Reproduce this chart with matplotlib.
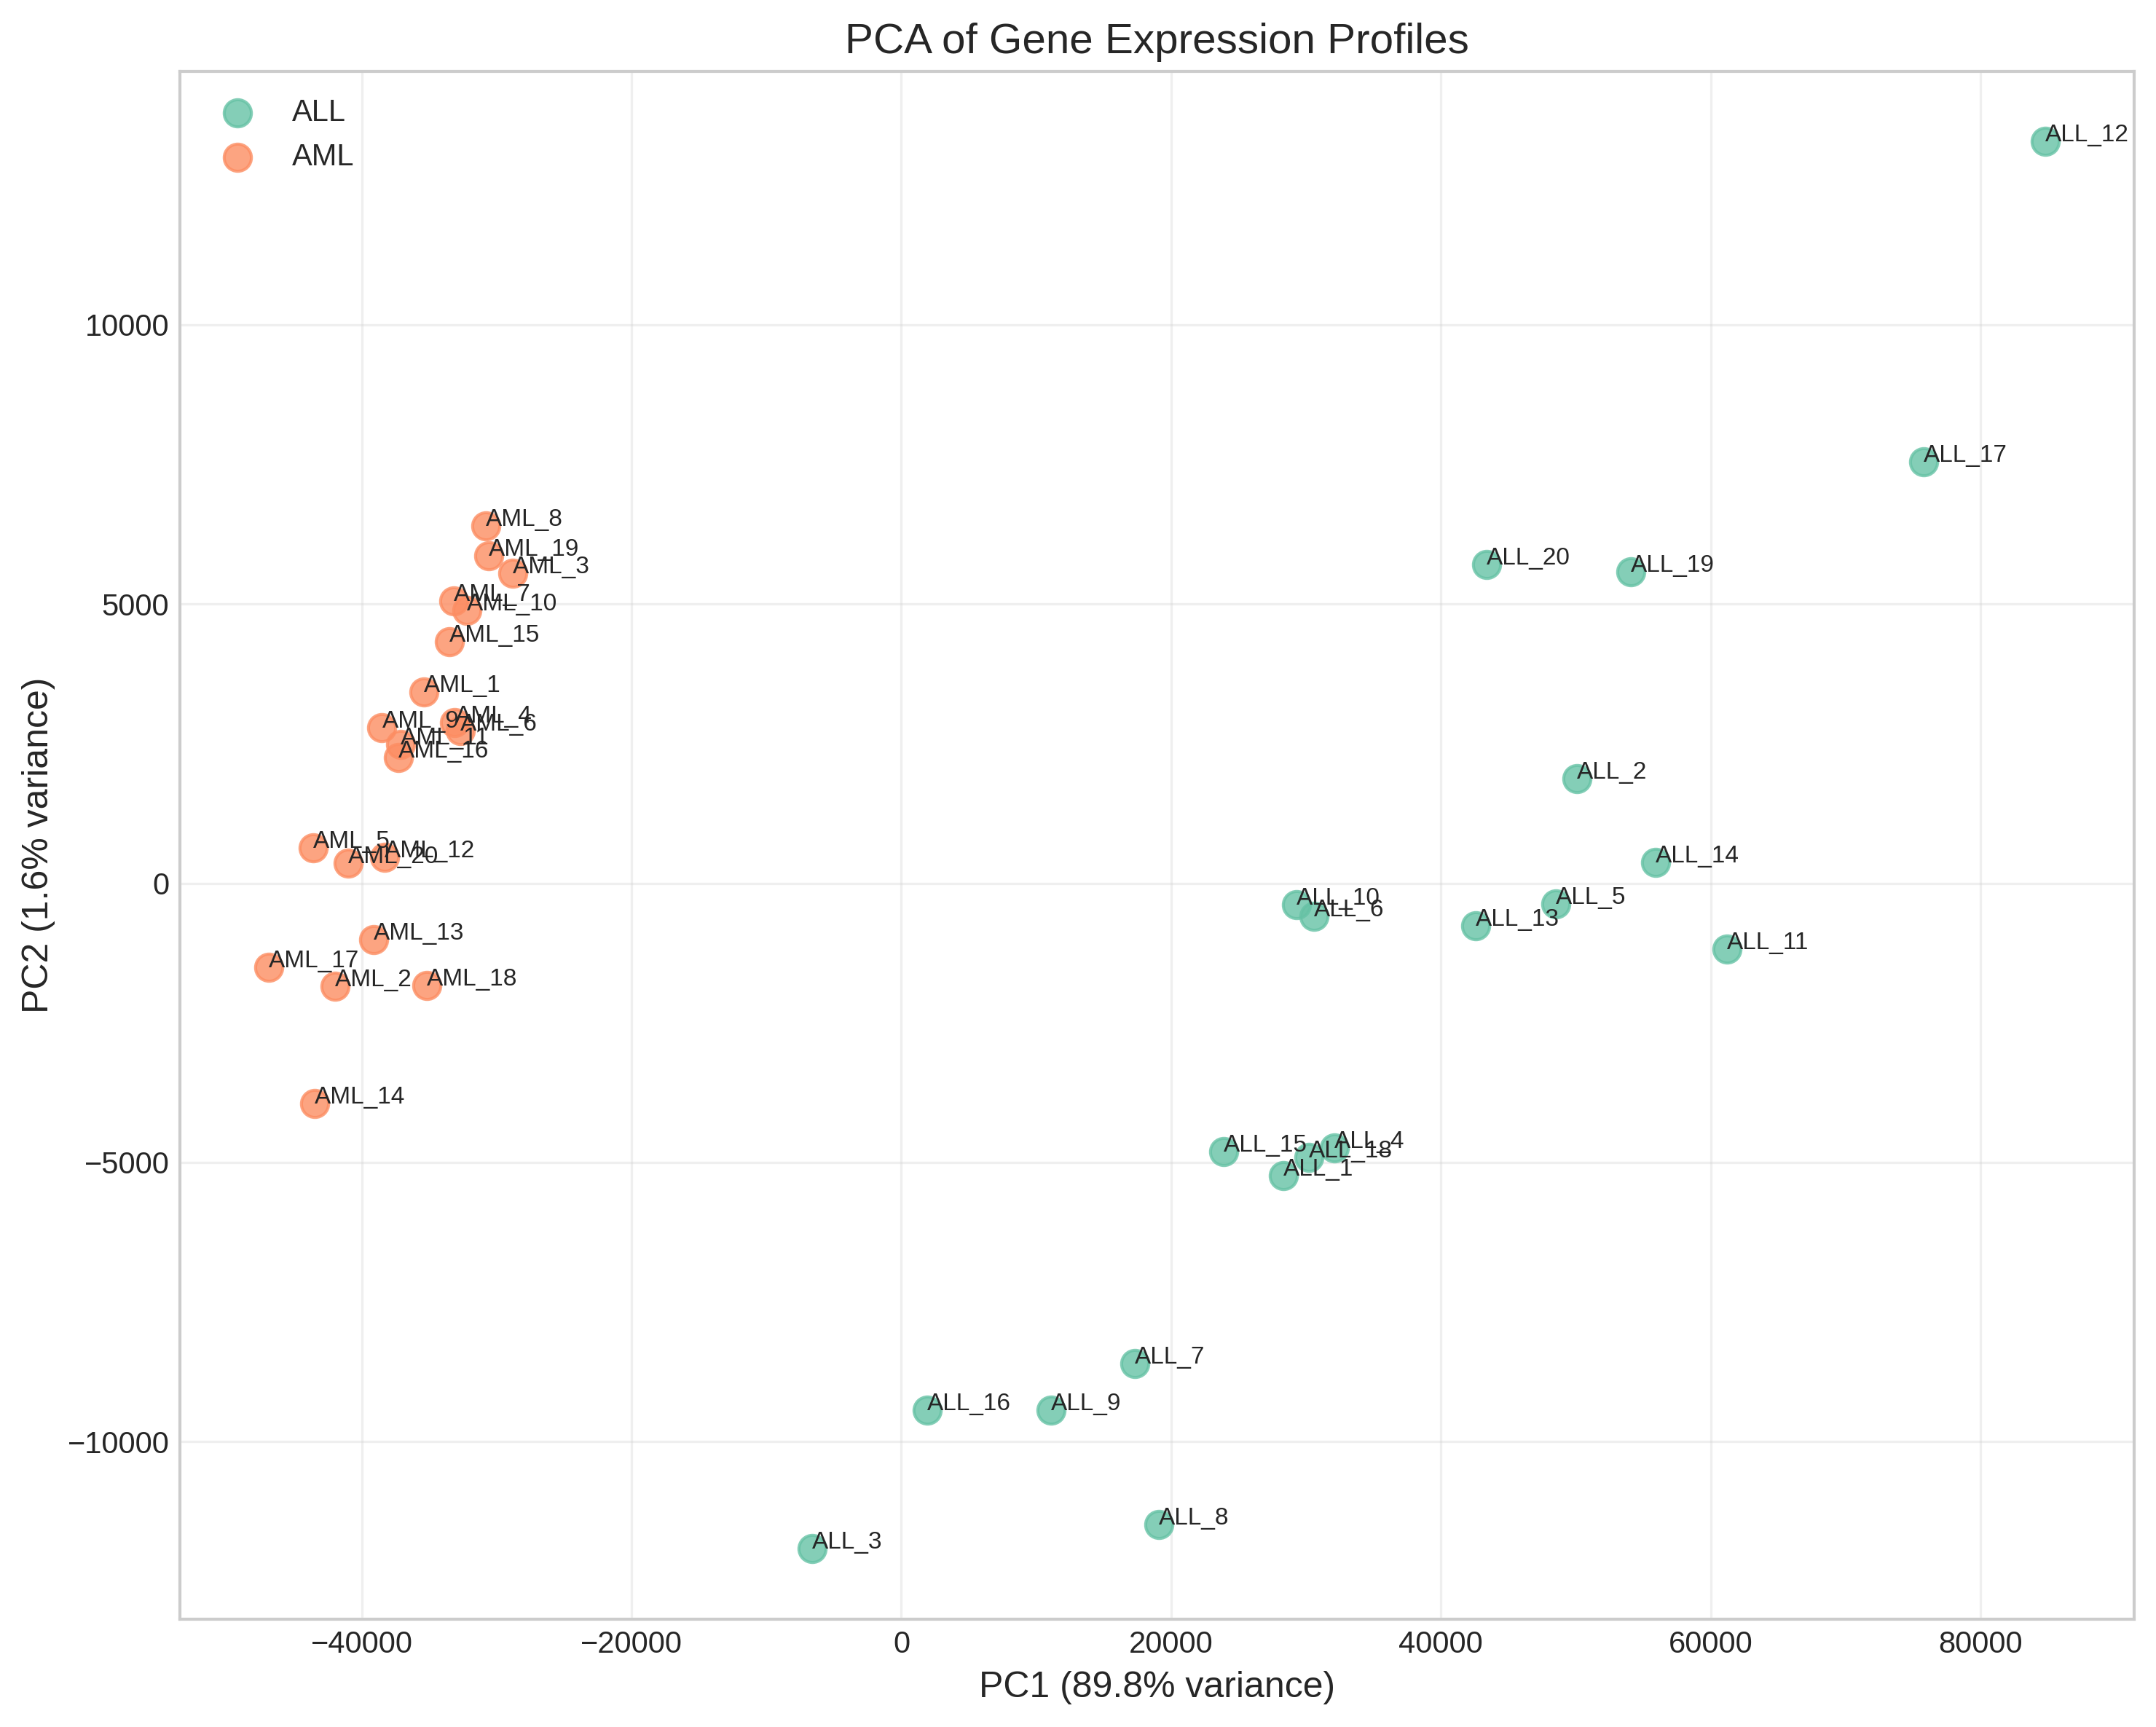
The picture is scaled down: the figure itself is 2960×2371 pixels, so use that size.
import numpy as np
import matplotlib
matplotlib.use("Agg")
import matplotlib.pyplot as plt

# PCA coordinates
all_names = ["ALL_1", "ALL_2", "ALL_3", "ALL_4", "ALL_5", "ALL_6", "ALL_7", "ALL_8", "ALL_9", "ALL_10",
             "ALL_11", "ALL_12", "ALL_13", "ALL_14", "ALL_15", "ALL_16", "ALL_17", "ALL_18", "ALL_19", "ALL_20"]
all_pc1 = [28300, 50100, -6600, 32100, 48500, 30600, 17300, 19100, 11100, 29300,
           61200, 84800, 42600, 55900, 23900, 1900, 75800, 30200, 54100, 43400]
all_pc2 = [-5240, 1870, -11920, -4740, -370, -590, -8600, -11480, -9430, -390,
           -1180, 13280, -760, 370, -4800, -9430, 7540, -4910, 5570, 5710]

aml_names = ["AML_1", "AML_2", "AML_3", "AML_4", "AML_5", "AML_6", "AML_7", "AML_8", "AML_9", "AML_10",
             "AML_11", "AML_12", "AML_13", "AML_14", "AML_15", "AML_16", "AML_17", "AML_18", "AML_19", "AML_20"]
aml_pc1 = [-35400, -42000, -28800, -33100, -43600, -32700, -33200, -30800, -38500, -32200,
           -37100, -38300, -39100, -43500, -33500, -37300, -46900, -35200, -30600, -41000]
aml_pc2 = [3430, -1840, 5550, 2880, 630, 2730, 5050, 6400, 2790, 4890,
           2490, 460, -1010, -3940, 4320, 2250, -1510, -1830, 5860, 360]

var_pc1 = 89.8
var_pc2 = 1.6

plt.style.use("seaborn-v0_8-whitegrid")
plt.rcParams["font.family"] = ["Liberation Sans", "DejaVu Sans"]
plt.rcParams["text.color"] = "0.15"
plt.rcParams["axes.labelcolor"] = "0.15"
plt.rcParams["xtick.color"] = "0.15"
plt.rcParams["ytick.color"] = "0.15"

colors = plt.get_cmap("Set2").colors

fig, ax = plt.subplots(figsize=(2961 / 300, 2371 / 300), dpi=300)
fig.subplots_adjust(left=0.0834, right=0.9895, top=0.9588, bottom=0.0624)

ax.scatter(all_pc1, all_pc2, s=80, color=colors[0], alpha=0.8, label="ALL")
ax.scatter(aml_pc1, aml_pc2, s=80, color=colors[1], alpha=0.8, label="AML")

for name, x, y in zip(all_names, all_pc1, all_pc2):
    ax.annotate(name, (x, y), fontsize=8)
for name, x, y in zip(aml_names, aml_pc1, aml_pc2):
    ax.annotate(name, (x, y), fontsize=8)

ax.set_xlabel(f"PC1 ({var_pc1}% variance)", fontsize=12)
ax.set_ylabel(f"PC2 ({var_pc2}% variance)", fontsize=12)
ax.set_title("PCA of Gene Expression Profiles", fontsize=14)
ax.tick_params(labelsize=10)
ax.grid(True, alpha=0.3)
for sp in ax.spines.values():
    sp.set_color("0.8")
ax.legend(loc="upper left", fontsize=10)

fig.savefig("out.png", dpi=300)
